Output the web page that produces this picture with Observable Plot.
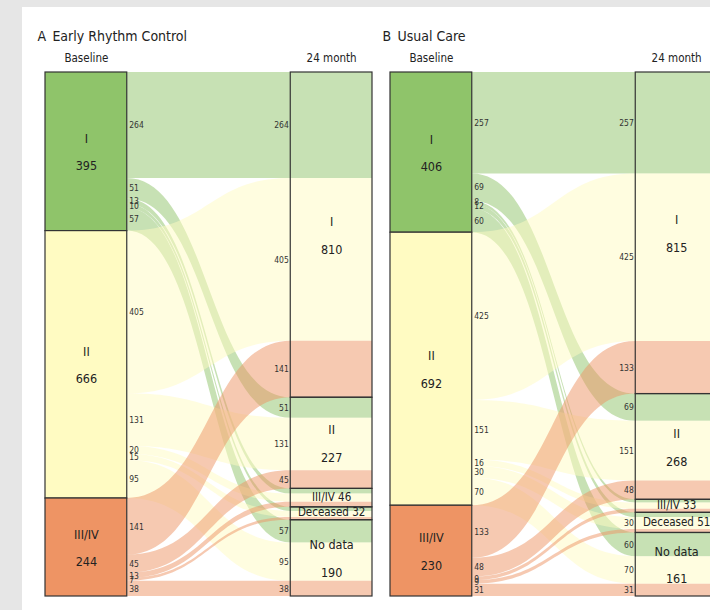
<!DOCTYPE html>
<html>
<head>
<meta charset="utf-8">
<script src="https://cdn.jsdelivr.net/npm/d3@7"></script>
<script src="https://cdn.jsdelivr.net/npm/@observablehq/plot@0.6"></script>
<style>
  html, body { margin: 0; padding: 0; overflow: hidden; background: #e6e6e6; width: 710px; height: 610px; }
  #card { position: absolute; left: 22px; top: 7px; width: 720px; height: 610px; background: #ffffff; }
  #card svg { display: block; }
</style>
</head>
<body>
<div id="card"></div>
<script>
// ---- data ----
const panels = ["A\u2002Early Rhythm Control", "B\u2002Usual Care"];
const stages = ["Baseline", "24 month"];
const baselineGroups = ["I", "II", "III/IV"];
const followGroups = ["I", "II", "III/IV", "Deceased", "No data"];
// rows: baseline group (I, II, III/IV); columns: 24-month group
const ercFlows = [
  [264, 51, 13, 10, 57],
  [405, 131, 20, 15, 95],
  [141, 45, 13, 7, 38]
];
const ucFlows = [
  [257, 69, 8, 12, 60],
  [425, 151, 16, 30, 70],
  [133, 48, 9, 9, 31]
];
const nodeColors = ["#8fc46a", "#fffbc2", "#ee9464"];

// ---- derived tables ----
const ribbons = [], baseNodes = [], followNodes = [], srcLabels = [], tgtLabels = [], headers = [], titles = [];
[ercFlows, ucFlows].forEach((m, p) => {
  const panel = panels[p];
  const total = d3.sum(m.flat());
  let acc = 0;
  const src = m.map((row, i) => {
    const y0 = acc; acc += d3.sum(row);
    baseNodes.push({panel, name: baselineGroups[i], value: d3.sum(row), y1: y0 / total, y2: acc / total, ym: (y0 + acc) / 2 / total});
    return y0;
  });
  acc = 0;
  const tgt = followGroups.map((g, j) => {
    const v = d3.sum(m, r => r[j]);
    const y0 = acc; acc += v;
    followNodes.push({panel, name: g, value: v, share: v / total, y1: y0 / total, y2: acc / total, ym: (y0 + acc) / 2 / total});
    return y0;
  });
  m.forEach((row, i) => row.forEach((v, j) => {
    const s0 = src[i]; src[i] += v;
    const t0 = tgt[j]; tgt[j] += v;
    const key = `${p}-${i}-${j}`;
    const grp = baselineGroups[i];
    ribbons.push({panel, key, grp, x: 1, y1: s0 / total, y2: (s0 + v) / total});
    ribbons.push({panel, key, grp, x: 3, y1: t0 / total, y2: (t0 + v) / total});
    ribbons.push({panel, key, grp, x: 4, y1: t0 / total, y2: (t0 + v) / total});
    srcLabels.push({panel, v, y: (s0 + v / 2) / total});
    tgtLabels.push({panel, v, y: (t0 + v / 2) / total});
  }));
  headers.push({panel, x: 0.5, label: stages[0]}, {panel, x: 3.5, label: stages[1]});
  titles.push({panel, label: panel});
});

const font = "'Liberation Sans Narrow', 'Arial Narrow', 'DejaVu Sans Condensed', sans-serif";
const ink = "#222";
const bigNodes = followNodes.filter(d => d.share > 0.05);
const smallNodes = followNodes.filter(d => d.share <= 0.05);

const chart = Plot.plot({
  width: 695,
  height: 603,
  marginTop: 65,
  marginBottom: 14,
  marginLeft: 23,
  marginRight: 0,
  style: {fontFamily: font, background: "white", overflow: "visible"},
  fx: {domain: panels, paddingInner: 18 / 345, paddingOuter: 0, axis: null, label: null},
  x: {domain: [0, 4], axis: null},
  y: {domain: [0, 1], reverse: true, axis: null},
  color: {domain: baselineGroups, range: nodeColors},
  facet: {marginTop: 0, marginBottom: 0, marginLeft: 0, marginRight: 0},
  marks: [
    Plot.areaY(ribbons, {fx: "panel", x: "x", y1: "y1", y2: "y2", z: "key", fill: "grp", fillOpacity: 0.5, curve: "bump-x"}),
    Plot.rect(baseNodes, {fx: "panel", x1: 0, x2: 1, y1: "y1", y2: "y2", fill: "name", stroke: "#333", strokeWidth: 1.2}),
    Plot.rect(followNodes, {fx: "panel", x1: 3, x2: 4, y1: "y1", y2: "y2", fill: "none", stroke: "#333", strokeWidth: 1.2}),
    Plot.text(baseNodes, {fx: "panel", x: 0.5, y: "ym", text: d => `${d.name}\n${d.value}`, fontSize: 12.5, lineHeight: 2.2, dy: -4, fill: ink}),
    Plot.text(bigNodes, {fx: "panel", x: 3.5, y: "ym", text: d => `${d.name}\n${d.value}`, fontSize: 12.5, lineHeight: 2.2, dy: -4, fill: ink}),
    Plot.text(smallNodes, {fx: "panel", x: 3.5, y: "ym", text: d => `${d.name} ${d.value}`, fontSize: 11.5, dy: -1, fill: ink}),
    Plot.text(srcLabels, {fx: "panel", x: 1, y: "y", text: "v", dx: 2, textAnchor: "start", fontSize: 8.5, fill: "#333"}),
    Plot.text(tgtLabels.filter(d => d.v >= 25), {fx: "panel", x: 3, y: "y", text: "v", dx: -2, textAnchor: "end", fontSize: 8.5, fill: "#333"}),
    Plot.text(headers, {fx: "panel", x: "x", y: 0, text: "label", dy: -14, fontSize: 11.5, fill: ink}),
    Plot.text(titles, {fx: "panel", x: 0, y: 0, text: "label", dx: -8, dy: -36, textAnchor: "start", fontSize: 14, fill: ink})
  ]
});
document.getElementById("card").appendChild(chart);
</script>
</body>
</html>
